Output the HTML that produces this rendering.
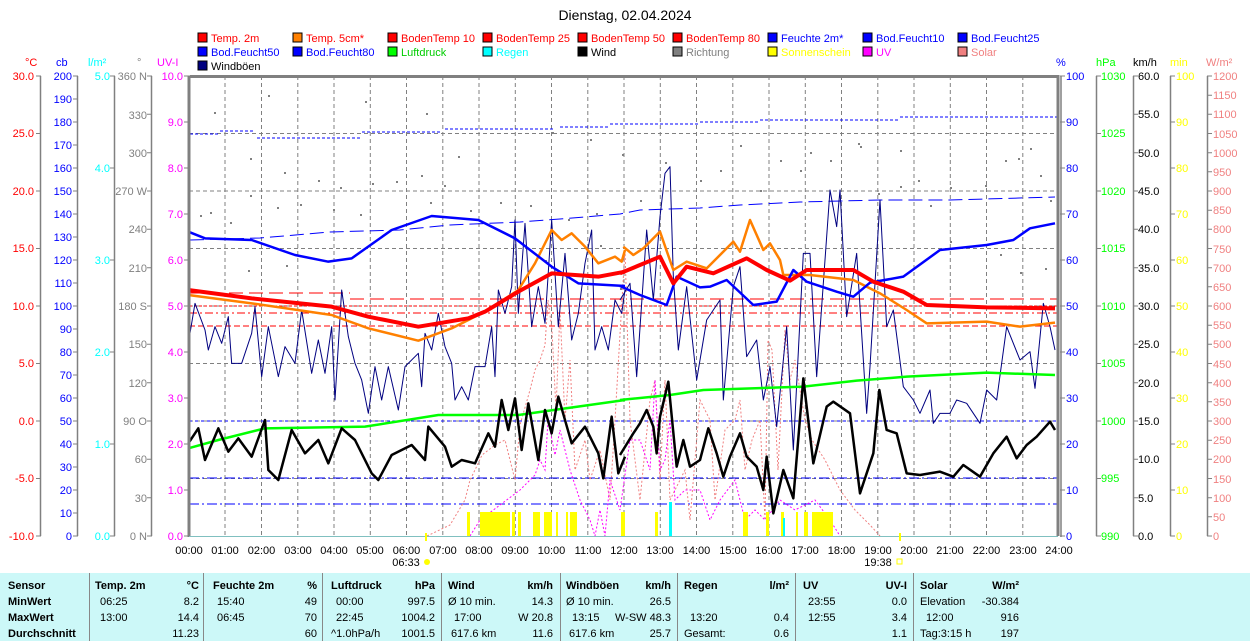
<!DOCTYPE html>
<html><head><meta charset="utf-8">
<style>
*{margin:0;padding:0}
body{width:1250px;height:641px;background:#fff;position:relative;overflow:hidden;font-family:"Liberation Sans",sans-serif}
svg{position:absolute;left:0;top:0}
.tb{position:absolute;left:0;top:573px;width:1250px;height:68px;background:#ccf8f8}
.c{position:absolute;font-size:11px;white-space:nowrap;line-height:13px}
.b{font-weight:bold}
.r{text-align:right}
.sep{position:absolute;top:0;width:1px;height:68px;background:#888}
</style></head><body>
<svg width="1250" height="641" font-family="Liberation Sans, sans-serif" font-size="11">
<text x="625" y="20" text-anchor="middle" font-size="14" fill="#000">Dienstag, 02.04.2024</text>
<!-- legend -->
<g font-size="11">
<rect x="198" y="33" width="9" height="9" fill="#f00" stroke="#000"/><text x="211" y="42" fill="#f00">Temp. 2m</text>
<rect x="293" y="33" width="9" height="9" fill="#ff8000" stroke="#000"/><text x="306" y="42" fill="#f00">Temp. 5cm*</text>
<rect x="388" y="33" width="9" height="9" fill="#f00" stroke="#000"/><text x="401" y="42" fill="#f00">BodenTemp 10</text>
<rect x="483" y="33" width="9" height="9" fill="#f00" stroke="#000"/><text x="496" y="42" fill="#f00">BodenTemp 25</text>
<rect x="578" y="33" width="9" height="9" fill="#f00" stroke="#000"/><text x="591" y="42" fill="#f00">BodenTemp 50</text>
<rect x="673" y="33" width="9" height="9" fill="#f00" stroke="#000"/><text x="686" y="42" fill="#f00">BodenTemp 80</text>
<rect x="768" y="33" width="9" height="9" fill="#00f" stroke="#000"/><text x="781" y="42" fill="#00f">Feuchte 2m*</text>
<rect x="863" y="33" width="9" height="9" fill="#00f" stroke="#000"/><text x="876" y="42" fill="#00f">Bod.Feucht10</text>
<rect x="958" y="33" width="9" height="9" fill="#00f" stroke="#000"/><text x="971" y="42" fill="#00f">Bod.Feucht25</text>
<rect x="198" y="47" width="9" height="9" fill="#00f" stroke="#000"/><text x="211" y="56" fill="#00f">Bod.Feucht50</text>
<rect x="293" y="47" width="9" height="9" fill="#00f" stroke="#000"/><text x="306" y="56" fill="#00f">Bod.Feucht80</text>
<rect x="388" y="47" width="9" height="9" fill="#0f0" stroke="#000"/><text x="401" y="56" fill="#0c0">Luftdruck</text>
<rect x="483" y="47" width="9" height="9" fill="#0ff" stroke="#000"/><text x="496" y="56" fill="#0ff">Regen</text>
<rect x="578" y="47" width="9" height="9" fill="#000" stroke="#000"/><text x="591" y="56" fill="#000">Wind</text>
<rect x="673" y="47" width="9" height="9" fill="#808080" stroke="#000"/><text x="686" y="56" fill="#808080">Richtung</text>
<rect x="768" y="47" width="9" height="9" fill="#ff0" stroke="#000"/><text x="781" y="56" fill="#ff0">Sonnenschein</text>
<rect x="863" y="47" width="9" height="9" fill="#f0f" stroke="#000"/><text x="876" y="56" fill="#f0f">UV</text>
<rect x="958" y="47" width="9" height="9" fill="#f08080" stroke="#000"/><text x="971" y="56" fill="#f08080">Solar</text>
<rect x="198" y="61" width="9" height="9" fill="#000080" stroke="#000"/><text x="211" y="70" fill="#000">Windböen</text>
</g>
<!-- unit labels -->
<text x="25" y="66" fill="#f00">°C</text><text x="56" y="66" fill="#00f">cb</text><text x="88" y="66" fill="#0ff">l/m²</text><text x="137" y="66" fill="#808080">°</text><text x="157" y="66" fill="#f0f">UV-I</text>
<text x="1056" y="66" fill="#00f">%</text><text x="1096" y="66" fill="#0f0">hPa</text><text x="1133" y="66" fill="#000">km/h</text><text x="1170" y="66" fill="#ff0">min</text><text x="1206" y="66" fill="#f08080">W/m²</text>
<!-- axis lines -->
<g stroke="#808080" stroke-width="1.5">
<line x1="40.5" y1="76" x2="40.5" y2="536"/><line x1="77.5" y1="76" x2="77.5" y2="536"/><line x1="114.5" y1="76" x2="114.5" y2="536"/><line x1="151.5" y1="76" x2="151.5" y2="536"/>
<line x1="1096.5" y1="76" x2="1096.5" y2="536"/><line x1="1133.5" y1="76" x2="1133.5" y2="536"/><line x1="1170.5" y1="76" x2="1170.5" y2="536"/><line x1="1207.5" y1="76" x2="1207.5" y2="536"/>
</g>
<!-- left ticks/labels -->
<g fill="#f00" text-anchor="end">
<text x="34" y="80">30.0</text><text x="34" y="137">25.0</text><text x="34" y="195">20.0</text><text x="34" y="252">15.0</text><text x="34" y="310">10.0</text><text x="34" y="367">5.0</text><text x="34" y="425">0.0</text><text x="34" y="482">-5.0</text><text x="34" y="540">-10.0</text></g>
<path stroke="#808080" d="M36 76h5M36 133.5h5M36 191h5M36 248.5h5M36 306h5M36 363.5h5M36 421h5M36 478.5h5M36 536h5"/>
<g fill="#00f" text-anchor="end">
<text x="72" y="80">200</text><text x="72" y="103">190</text><text x="72" y="126">180</text><text x="72" y="149">170</text><text x="72" y="172">160</text><text x="72" y="195">150</text><text x="72" y="218">140</text><text x="72" y="241">130</text><text x="72" y="264">120</text><text x="72" y="287">110</text><text x="72" y="310">100</text><text x="72" y="333">90</text><text x="72" y="356">80</text><text x="72" y="379">70</text><text x="72" y="402">60</text><text x="72" y="425">50</text><text x="72" y="448">40</text><text x="72" y="471">30</text><text x="72" y="494">20</text><text x="72" y="517">10</text><text x="72" y="540">0</text></g>
<path stroke="#808080" d="M73 76h5M73 99h5M73 122h5M73 145h5M73 168h5M73 191h5M73 214h5M73 237h5M73 260h5M73 283h5M73 306h5M73 329h5M73 352h5M73 375h5M73 398h5M73 421h5M73 444h5M73 467h5M73 490h5M73 513h5M73 536h5"/>
<g fill="#0ff" text-anchor="end">
<text x="110" y="80">5.0</text><text x="110" y="172">4.0</text><text x="110" y="264">3.0</text><text x="110" y="356">2.0</text><text x="110" y="448">1.0</text><text x="110" y="540">0.0</text></g>
<path stroke="#808080" d="M110 76h5M110 168h5M110 260h5M110 352h5M110 444h5M110 536h5"/>
<g fill="#808080" text-anchor="end">
<text x="147" y="80">360 N</text><text x="147" y="119">330</text><text x="147" y="157">300</text><text x="147" y="195">270 W</text><text x="147" y="233">240</text><text x="147" y="272">210</text><text x="147" y="310">180 S</text><text x="147" y="348">150</text><text x="147" y="387">120</text><text x="147" y="425">90 O</text><text x="147" y="463">60</text><text x="147" y="502">30</text><text x="147" y="540">0 N</text></g>
<path stroke="#808080" d="M147 76h5M147 114.3h5M147 152.7h5M147 191h5M147 229.3h5M147 267.7h5M147 306h5M147 344.3h5M147 382.7h5M147 421h5M147 459.3h5M147 497.7h5M147 536h5"/>
<g fill="#f0f" text-anchor="end">
<text x="183" y="80">10.0</text><text x="183" y="126">9.0</text><text x="183" y="172">8.0</text><text x="183" y="218">7.0</text><text x="183" y="264">6.0</text><text x="183" y="310">5.0</text><text x="183" y="356">4.0</text><text x="183" y="402">3.0</text><text x="183" y="448">2.0</text><text x="183" y="494">1.0</text><text x="183" y="540">0.0</text></g>
<path stroke="#808080" d="M184 76h5M184 122h5M184 168h5M184 214h5M184 260h5M184 306h5M184 352h5M184 398h5M184 444h5M184 490h5M184 536h5"/>
<!-- right labels -->
<g fill="#00f"><text x="1066" y="80">100</text><text x="1066" y="126">90</text><text x="1066" y="172">80</text><text x="1066" y="218">70</text><text x="1066" y="264">60</text><text x="1066" y="310">50</text><text x="1066" y="356">40</text><text x="1066" y="402">30</text><text x="1066" y="448">20</text><text x="1066" y="494">10</text><text x="1066" y="540">0</text></g>
<path stroke="#808080" d="M1060 76h5M1060 122h5M1060 168h5M1060 214h5M1060 260h5M1060 306h5M1060 352h5M1060 398h5M1060 444h5M1060 490h5M1060 536h5"/>
<g fill="#0f0"><text x="1101" y="80">1030</text><text x="1101" y="137">1025</text><text x="1101" y="195">1020</text><text x="1101" y="252">1015</text><text x="1101" y="310">1010</text><text x="1101" y="367">1005</text><text x="1101" y="425">1000</text><text x="1101" y="482">995</text><text x="1101" y="540">990</text></g>
<path stroke="#808080" d="M1096 76h5M1096 133.5h5M1096 191h5M1096 248.5h5M1096 306h5M1096 363.5h5M1096 421h5M1096 478.5h5M1096 536h5"/>
<g fill="#000"><text x="1138" y="80">60.0</text><text x="1138" y="118">55.0</text><text x="1138" y="157">50.0</text><text x="1138" y="195">45.0</text><text x="1138" y="233">40.0</text><text x="1138" y="272">35.0</text><text x="1138" y="310">30.0</text><text x="1138" y="348">25.0</text><text x="1138" y="387">20.0</text><text x="1138" y="425">15.0</text><text x="1138" y="463">10.0</text><text x="1138" y="502">5.0</text><text x="1138" y="540">0.0</text></g>
<path stroke="#808080" d="M1133 76h5M1133 114.3h5M1133 152.7h5M1133 191h5M1133 229.3h5M1133 267.7h5M1133 306h5M1133 344.3h5M1133 382.7h5M1133 421h5M1133 459.3h5M1133 497.7h5M1133 536h5"/>
<g fill="#ff0"><text x="1176" y="80">100</text><text x="1176" y="126">90</text><text x="1176" y="172">80</text><text x="1176" y="218">70</text><text x="1176" y="264">60</text><text x="1176" y="310">50</text><text x="1176" y="356">40</text><text x="1176" y="402">30</text><text x="1176" y="448">20</text><text x="1176" y="494">10</text><text x="1176" y="540">0</text></g>
<path stroke="#808080" d="M1170 76h5M1170 122h5M1170 168h5M1170 214h5M1170 260h5M1170 306h5M1170 352h5M1170 398h5M1170 444h5M1170 490h5M1170 536h5"/>
<g fill="#f08080"><text x="1213" y="80">1200</text><text x="1213" y="99">1150</text><text x="1213" y="118">1100</text><text x="1213" y="138">1050</text><text x="1213" y="157">1000</text><text x="1213" y="176">950</text><text x="1213" y="195">900</text><text x="1213" y="214">850</text><text x="1213" y="233">800</text><text x="1213" y="253">750</text><text x="1213" y="272">700</text><text x="1213" y="291">650</text><text x="1213" y="310">600</text><text x="1213" y="329">550</text><text x="1213" y="348">500</text><text x="1213" y="368">450</text><text x="1213" y="387">400</text><text x="1213" y="406">350</text><text x="1213" y="425">300</text><text x="1213" y="444">250</text><text x="1213" y="463">200</text><text x="1213" y="483">150</text><text x="1213" y="502">100</text><text x="1213" y="521">50</text><text x="1213" y="540">0</text></g>
<path stroke="#808080" d="M1207 76h5M1207 95.2h5M1207 114.3h5M1207 133.5h5M1207 152.7h5M1207 171.8h5M1207 191h5M1207 210.2h5M1207 229.3h5M1207 248.5h5M1207 267.7h5M1207 286.8h5M1207 306h5M1207 325.2h5M1207 344.3h5M1207 363.5h5M1207 382.7h5M1207 401.8h5M1207 421h5M1207 440.2h5M1207 459.3h5M1207 478.5h5M1207 497.7h5M1207 516.8h5M1207 536h5"/>
<!-- grid -->
<g stroke="#808080" stroke-dasharray="4,3" stroke-width="1">
<path d="M225 76V536M261.5 76V536M297.8 76V536M334 76V536M370.3 76V536M406.5 76V536M442.8 76V536M479 76V536M515.3 76V536M551.5 76V536M587.8 76V536M624 76V536M660.3 76V536M696.5 76V536M732.8 76V536M769 76V536M805.3 76V536M841.5 76V536M877.8 76V536M914 76V536M950.3 76V536M986.5 76V536M1022.8 76V536"/>
<path d="M189 133.5H1058M189 191H1058M189 248.5H1058M189 306H1058M189 363.5H1058M189 421H1058M189 478.5H1058"/>
</g>
<!-- direction dots -->
<g fill="#808080">
<rect x="214" y="112" width="2" height="2"/><rect x="268" y="95" width="2" height="2"/><rect x="365" y="101" width="2" height="2"/><rect x="426" y="113" width="2" height="2"/><rect x="458" y="156" width="2" height="2"/><rect x="552" y="132" width="2" height="2"/><rect x="590" y="139" width="2" height="2"/><rect x="622" y="154" width="2" height="2"/><rect x="250" y="158" width="2" height="2"/><rect x="284" y="172" width="2" height="2"/><rect x="318" y="180" width="2" height="2"/><rect x="340" y="187" width="2" height="2"/><rect x="372" y="183" width="2" height="2"/><rect x="396" y="181" width="2" height="2"/><rect x="421" y="175" width="2" height="2"/><rect x="444" y="185" width="2" height="2"/><rect x="200" y="215" width="2" height="2"/><rect x="210" y="212" width="2" height="2"/><rect x="230" y="222" width="2" height="2"/><rect x="250" y="195" width="2" height="2"/><rect x="277" y="207" width="2" height="2"/><rect x="300" y="204" width="2" height="2"/><rect x="333" y="209" width="2" height="2"/><rect x="360" y="214" width="2" height="2"/><rect x="402" y="225" width="2" height="2"/><rect x="430" y="202" width="2" height="2"/><rect x="470" y="210" width="2" height="2"/><rect x="500" y="202" width="2" height="2"/><rect x="530" y="205" width="2" height="2"/><rect x="568" y="219" width="2" height="2"/><rect x="596" y="213" width="2" height="2"/><rect x="600" y="245" width="2" height="2"/><rect x="248" y="270" width="2" height="2"/><rect x="286" y="265" width="2" height="2"/><rect x="545" y="260" width="2" height="2"/><rect x="620" y="288" width="2" height="2"/><rect x="640" y="200" width="2" height="2"/><rect x="665" y="162" width="2" height="2"/><rect x="700" y="180" width="2" height="2"/><rect x="720" y="170" width="2" height="2"/><rect x="740" y="145" width="2" height="2"/><rect x="760" y="190" width="2" height="2"/><rect x="780" y="160" width="2" height="2"/><rect x="800" y="170" width="2" height="2"/><rect x="810" y="152" width="2" height="2"/><rect x="830" y="160" width="2" height="2"/><rect x="858" y="143" width="2" height="2"/><rect x="878" y="193" width="2" height="2"/><rect x="900" y="150" width="2" height="2"/><rect x="918" y="180" width="2" height="2"/><rect x="930" y="205" width="2" height="2"/><rect x="950" y="187" width="2" height="2"/><rect x="985" y="185" width="2" height="2"/><rect x="1005" y="160" width="2" height="2"/><rect x="1018" y="158" width="2" height="2"/><rect x="1030" y="148" width="2" height="2"/><rect x="1040" y="175" width="2" height="2"/><rect x="1050" y="200" width="2" height="2"/><rect x="950" y="241" width="2" height="2"/><rect x="1000" y="254" width="2" height="2"/><rect x="1020" y="272" width="2" height="2"/><rect x="1045" y="268" width="2" height="2"/><rect x="860" y="146" width="2" height="2"/><rect x="900" y="186" width="2" height="2"/></g>
<!-- horizontal reference lines -->
<path d="M190 134 H220 M220 131 H255 M257 138 H360 M362 132 H440 M445 129 H555 M560 127 H610 M610 124 H700 M700 122 H760 M760 120 H900 M900 117 H1057" stroke="#00f" stroke-dasharray="3,2" fill="none"/>
<polyline points="190,240 260,238 330,232 400,230 450,225 520,222 560,219 620,214 640,210 700,208 740,205 800,202 880,200 950,200 1055,197" stroke="#00f" stroke-dasharray="14,6" fill="none"/>
<path d="M189 293 H350 M350 299 H1057" stroke="#f00" stroke-dasharray="14,6"/>
<path d="M189 306 H1057" stroke="#f00" stroke-dasharray="3,2"/>
<path d="M189 313 H1057" stroke="#f00" stroke-dasharray="8,3,2,3"/>
<path d="M189 326 H1057" stroke="#f00" stroke-dasharray="6,3"/>
<path d="M189 421 H1057" stroke="#00f" stroke-dasharray="3,3"/>
<path d="M189 478 H1057 M189 504 H1057" stroke="#00f" stroke-dasharray="10,3,2,3"/>
<!-- solar & uv -->
<polyline points="427,536 450,525 465,500 470,480 475,470 482,455 495,445 505,440 510,460 515,480 520,425 530,390 535,370 540,360 545,345 548,300 552,330 556,410 560,310 565,420 570,360 575,470 585,440 590,480 600,450 610,500 615,420 622,300 625,250 630,420 640,500 650,400 655,380 660,480 665,380 670,500 685,470 690,520 700,400 710,420 715,500 725,430 735,420 740,400 745,470 752,440 760,420 765,520 768,340 772,350 778,470 785,330 790,380 795,360 805,420 812,440 825,460 840,490 855,510 870,525 880,536" fill="none" stroke="#f08080" stroke-dasharray="2,2"/>
<polyline points="470,536 480,520 500,505 520,490 535,475 540,460 545,470 548,420 555,455 560,430 570,470 580,500 590,520 595,536 600,510 605,536 610,480 620,510 630,440 640,440 650,470 655,380 660,470 665,460 670,420 675,500 685,490 700,490 710,520 720,500 735,480 745,520 755,510 765,520 780,500 795,510 815,500 830,520 840,536" fill="none" stroke="#f0f" stroke-dasharray="2,2"/>
<!-- sunshine -->
<g fill="#ff0">
<rect x="467" y="512" width="3" height="24"/><rect x="480" y="512" width="30" height="24"/><rect x="512" y="512" width="3" height="24"/><rect x="518" y="512" width="3" height="24"/><rect x="533" y="512" width="7" height="24"/><rect x="544" y="512" width="8" height="24"/><rect x="556" y="512" width="2" height="24"/><rect x="566" y="512" width="2" height="24"/><rect x="570" y="512" width="7" height="24"/><rect x="621" y="512" width="4" height="24"/><rect x="655" y="512" width="3" height="24"/><rect x="743" y="512" width="5" height="24"/><rect x="766" y="512" width="3" height="24"/><rect x="781" y="512" width="3" height="24"/><rect x="796" y="512" width="2" height="24"/><rect x="804" y="512" width="4" height="24"/><rect x="812" y="512" width="21" height="24"/></g>
<rect x="669" y="502" width="3" height="34" fill="#0ff"/><rect x="783" y="518" width="2" height="18" fill="#0ff"/>
<!-- series in zoom coords -->
<g transform="translate(185,180) scale(0.33333)" fill="none" stroke-linejoin="round">
<polyline vector-effect="non-scaling-stroke" stroke="#000080" stroke-width="1" points="10,490 30,370 60,450 70,510 90,440 110,490 130,410 140,550 170,550 200,460 210,380 230,590 250,440 280,590 300,500 330,550 350,390 380,580 400,480 420,580 440,440 450,660 470,330 490,470 510,550 530,600 550,700 570,560 590,660 610,560 640,690 660,560 700,520 710,620 720,460 740,510 760,400 780,500 800,550 810,660 830,620 850,660 870,560 900,560 920,440 930,590 940,330 960,400 980,320 990,120 1000,400 1020,130 1040,440 1060,320 1080,430 1100,120 1120,440 1140,220 1160,480 1180,400 1200,250 1220,150 1230,510 1250,440 1270,510 1290,360 1310,400 1320,330"/>
<polyline vector-effect="non-scaling-stroke" stroke="#0f0" stroke-width="2.5" points="10,805 100,780 240,745 540,740 760,705 1000,705 1320,660"/>
<polyline vector-effect="non-scaling-stroke" stroke="#000" stroke-width="2.5" points="10,790 40,745 60,840 100,745 130,815 160,775 200,830 240,720 250,870 280,900 320,750 360,820 400,780 430,850 470,745 510,780 560,880 580,900 620,825 680,795 720,840 730,740 780,800 800,860 830,840 870,850 910,760 930,800 950,660 970,750 990,655 1010,810 1030,670 1060,840 1080,690 1100,760 1120,650 1160,790 1200,740 1240,820 1255,895 1280,710 1300,880 1320,830"/>
<polyline vector-effect="non-scaling-stroke" stroke="#ff8000" stroke-width="2.5" points="10,345 200,370 440,405 550,445 700,482 800,445 900,395 1000,330 1050,250 1100,150 1130,180 1160,160 1200,200 1240,250 1290,230 1310,245 1320,210"/>
<polyline vector-effect="non-scaling-stroke" stroke="#00f" stroke-width="2.5" points="10,155 60,175 200,180 330,225 430,245 500,235 620,150 740,108 880,120 990,175 1100,260 1180,310 1320,318"/>
<polyline vector-effect="non-scaling-stroke" stroke="#f00" stroke-width="4" points="10,330 200,355 440,380 550,410 700,440 850,415 900,395 1000,335 1100,280 1240,290 1320,275"/>
</g>
<g transform="translate(620,160) scale(0.33333)" fill="none" stroke-linejoin="round">
<polyline vector-effect="non-scaling-stroke" stroke="#000080" stroke-width="1" points="0,420 30,370 50,650 80,210 100,420 120,170 135,40 150,20 160,350 175,570 200,380 230,660 260,480 300,420 310,720 340,380 360,320 380,590 410,540 430,720 450,620 470,800 500,500 520,870 550,280 570,280 590,650 630,90 650,200 660,90 680,470 710,280 740,760 750,620 780,120 800,500 820,450 850,680 880,720 900,760 930,690 940,790 960,760 990,760 1010,720 1040,730 1080,790 1100,690 1130,720 1160,500 1200,600 1230,575 1245,685 1270,430 1290,500 1305,570"/>
<polyline vector-effect="non-scaling-stroke" stroke="#0f0" stroke-width="2.5" points="0,720 150,705 250,690 550,680 710,662 860,650 1100,638 1305,645"/>
<polyline vector-effect="non-scaling-stroke" stroke="#000" stroke-width="2.5" points="0,885 40,820 60,790 80,750 100,800 110,880 120,770 145,665 170,920 190,840 210,920 240,900 265,805 290,880 310,950 330,890 360,820 380,890 410,920 430,990 440,890 460,1060 490,930 520,1015 550,655 580,910 620,740 640,725 690,760 720,1000 760,880 778,690 800,810 830,820 860,940 900,945 960,935 1000,950 1030,915 1080,950 1120,880 1160,830 1190,895 1220,855 1250,830 1290,785 1305,810"/>
<polyline vector-effect="non-scaling-stroke" stroke="#ff8000" stroke-width="2.5" points="10,260 40,285 70,265 120,215 160,330 200,305 260,325 340,245 360,275 390,180 430,270 450,250 480,300 490,345 570,345 700,360 780,400 860,450 920,490 1100,485 1200,500 1305,488"/>
<polyline vector-effect="non-scaling-stroke" stroke="#00f" stroke-width="2.5" points="0,378 60,405 140,435 170,350 240,382 270,380 320,360 400,435 470,425 520,330 560,365 650,395 700,410 750,368 850,350 960,270 1100,255 1180,240 1230,205 1305,190"/>
<polyline vector-effect="non-scaling-stroke" stroke="#f00" stroke-width="4" points="0,340 120,290 160,370 200,320 280,340 380,295 440,330 510,362 560,330 700,330 760,365 850,395 920,435 1100,442 1305,445"/>
</g>
<!-- plot border -->
<path d="M189.5 76.5 H1058 V536" stroke="#808080" stroke-width="3" fill="none"/>
<line x1="189" y1="76" x2="189" y2="537" stroke="#808080" stroke-width="3"/>
<line x1="1061" y1="76" x2="1061" y2="537" stroke="#808080" stroke-width="1.5"/>
<line x1="189" y1="536.5" x2="1058" y2="536.5" stroke="#80c0c0" stroke-width="1"/>
<!-- time labels -->
<g text-anchor="middle" fill="#000">
<text x="189" y="554">00:00</text><text x="225" y="554">01:00</text><text x="261.5" y="554">02:00</text><text x="298" y="554">03:00</text><text x="334" y="554">04:00</text><text x="370" y="554">05:00</text><text x="406.5" y="554">06:00</text><text x="443" y="554">07:00</text><text x="479" y="554">08:00</text><text x="515" y="554">09:00</text><text x="551.5" y="554">10:00</text><text x="588" y="554">11:00</text><text x="624" y="554">12:00</text><text x="660" y="554">13:00</text><text x="696.5" y="554">14:00</text><text x="733" y="554">15:00</text><text x="769" y="554">16:00</text><text x="805" y="554">17:00</text><text x="841.5" y="554">18:00</text><text x="878" y="554">19:00</text><text x="914" y="554">20:00</text><text x="950" y="554">21:00</text><text x="986.5" y="554">22:00</text><text x="1023" y="554">23:00</text><text x="1059" y="554">24:00</text>
<text x="406" y="566">06:33</text><text x="878" y="566">19:38</text></g>
<rect x="425" y="533" width="2" height="8" fill="#ff0"/><circle cx="427" cy="562" r="3" fill="#ff0"/>
<rect x="899" y="533" width="2" height="8" fill="#ff0"/><rect x="897" y="559" width="5" height="5" fill="none" stroke="#ff0"/>
</svg>
<div class="tb">
<div class="sep" style="left:89px"></div><div class="sep" style="left:203px"></div><div class="sep" style="left:322px"></div><div class="sep" style="left:441px"></div><div class="sep" style="left:560px"></div><div class="sep" style="left:677px"></div><div class="sep" style="left:795px"></div><div class="sep" style="left:913px"></div>
<div class="c b" style="left:8px;top:7px">Sensor</div><div class="c b" style="left:8px;top:23px">MinWert</div><div class="c b" style="left:8px;top:39px">MaxWert</div><div class="c b" style="left:8px;top:55px">Durchschnitt</div>
<div class="c b" style="left:95px;top:7px">Temp. 2m</div><div class="c b r" style="left:150px;width:49px;top:7px">°C</div>
<div class="c" style="left:100px;top:23px">06:25</div><div class="c r" style="left:150px;width:49px;top:23px">8.2</div>
<div class="c" style="left:100px;top:39px">13:00</div><div class="c r" style="left:150px;width:49px;top:39px">14.4</div>
<div class="c r" style="left:150px;width:49px;top:55px">11.23</div>
<div class="c b" style="left:213px;top:7px">Feuchte 2m</div><div class="c b r" style="left:270px;width:47px;top:7px">%</div>
<div class="c" style="left:217px;top:23px">15:40</div><div class="c r" style="left:270px;width:47px;top:23px">49</div>
<div class="c" style="left:217px;top:39px">06:45</div><div class="c r" style="left:270px;width:47px;top:39px">70</div>
<div class="c r" style="left:270px;width:47px;top:55px">60</div>
<div class="c b" style="left:331px;top:7px">Luftdruck</div><div class="c b r" style="left:390px;width:45px;top:7px">hPa</div>
<div class="c" style="left:336px;top:23px">00:00</div><div class="c r" style="left:390px;width:45px;top:23px">997.5</div>
<div class="c" style="left:336px;top:39px">22:45</div><div class="c r" style="left:390px;width:45px;top:39px">1004.2</div>
<div class="c" style="left:331px;top:55px">^1.0hPa/h</div><div class="c r" style="left:390px;width:45px;top:55px">1001.5</div>
<div class="c b" style="left:448px;top:7px">Wind</div><div class="c b r" style="left:500px;width:53px;top:7px">km/h</div>
<div class="c" style="left:448px;top:23px">Ø 10 min.</div><div class="c r" style="left:500px;width:53px;top:23px">14.3</div>
<div class="c" style="left:454px;top:39px">17:00</div><div class="c r" style="left:500px;width:53px;top:39px">W 20.8</div>
<div class="c" style="left:451px;top:55px">617.6 km</div><div class="c r" style="left:500px;width:53px;top:55px">11.6</div>
<div class="c b" style="left:566px;top:7px">Windböen</div><div class="c b r" style="left:620px;width:51px;top:7px">km/h</div>
<div class="c" style="left:566px;top:23px">Ø 10 min.</div><div class="c r" style="left:620px;width:51px;top:23px">26.5</div>
<div class="c" style="left:572px;top:39px">13:15</div><div class="c r" style="left:600px;width:71px;top:39px">W-SW 48.3</div>
<div class="c" style="left:569px;top:55px">617.6 km</div><div class="c r" style="left:620px;width:51px;top:55px">25.7</div>
<div class="c b" style="left:684px;top:7px">Regen</div><div class="c b r" style="left:740px;width:49px;top:7px">l/m²</div>
<div class="c" style="left:690px;top:39px">13:20</div><div class="c r" style="left:740px;width:49px;top:39px">0.4</div>
<div class="c" style="left:684px;top:55px">Gesamt:</div><div class="c r" style="left:740px;width:49px;top:55px">0.6</div>
<div class="c b" style="left:803px;top:7px">UV</div><div class="c b r" style="left:860px;width:47px;top:7px">UV-I</div>
<div class="c" style="left:808px;top:23px">23:55</div><div class="c r" style="left:860px;width:47px;top:23px">0.0</div>
<div class="c" style="left:808px;top:39px">12:55</div><div class="c r" style="left:860px;width:47px;top:39px">3.4</div>
<div class="c r" style="left:860px;width:47px;top:55px">1.1</div>
<div class="c b" style="left:920px;top:7px">Solar</div><div class="c b r" style="left:970px;width:49px;top:7px">W/m²</div>
<div class="c" style="left:920px;top:23px">Elevation</div><div class="c r" style="left:960px;width:59px;top:23px">-30.384</div>
<div class="c" style="left:926px;top:39px">12:00</div><div class="c r" style="left:970px;width:49px;top:39px">916</div>
<div class="c" style="left:920px;top:55px">Tag:3:15 h</div><div class="c r" style="left:970px;width:49px;top:55px">197</div>
</div>
</body></html>
